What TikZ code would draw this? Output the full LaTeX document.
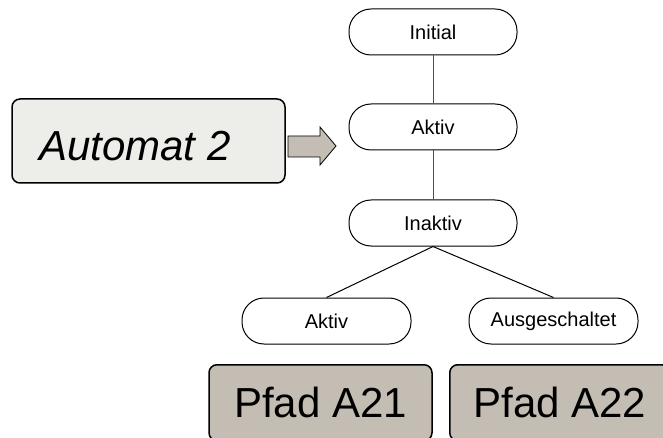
\documentclass[tikz,border=0pt]{standalone}
\usepackage{fontspec}
\setmainfont{Liberation Sans}
\definecolor{pathfill}{HTML}{C4BDB4}
\definecolor{autofill}{HTML}{EDEDEA}
\begin{document}
\begin{tikzpicture}[x=1pt,y=-1pt,
  state/.style={draw=black, line width=1pt, fill=white, rounded corners=22pt,
    minimum width=168pt, minimum height=46pt, inner sep=0pt,
    font=\fontsize{20}{24}\selectfont},
  bigbox/.style={draw=black, line width=1.5pt, rounded corners=8pt, inner sep=0pt,
    font=\fontsize{42}{48}\selectfont},
  link/.style={draw=black!70, line width=1pt}]
\useasboundingbox (0,0) rectangle (663,438);
\node[state] (init) at (433,32) {Initial};
\node[state] (akt) at (433,127) {Aktiv};
\node[state] (inakt) at (433,223) {Inaktiv};
\node[state, minimum width=169pt] (akt2) at (326.5,321) {Aktiv};
\node[state, minimum width=169pt] (aus) at (553.5,321) {Ausgeschaltet};
\draw[link] (init) -- (akt);
\draw[link] (akt) -- (inakt);
\draw[line width=1pt] (inakt.south) -- (akt2.north);
\draw[line width=1pt] (inakt.south) -- (aus.north);
\node[bigbox, fill=autofill, minimum width=273pt, minimum height=84pt] (auto) at (148.5,141) {};
\node[font=\fontsize{42}{48}\selectfont\itshape, anchor=west, inner sep=0pt] (autotext) at (39,146) {Automat 2};
\draw[draw=black, line width=0.8pt, fill=pathfill]
  (288,136) -- (320,136) -- (320,127) -- (336,146) -- (320,165) -- (320,157) -- (288,157) -- cycle;
\node[bigbox, fill=pathfill, minimum width=223pt, minimum height=76pt, anchor=north] (p1) at (320.5,364) {Pfad A21};
\node[bigbox, fill=pathfill, minimum width=220pt, minimum height=76pt, anchor=north west] (p2) at (449,364) {Pfad A22};
\end{tikzpicture}
\end{document}
